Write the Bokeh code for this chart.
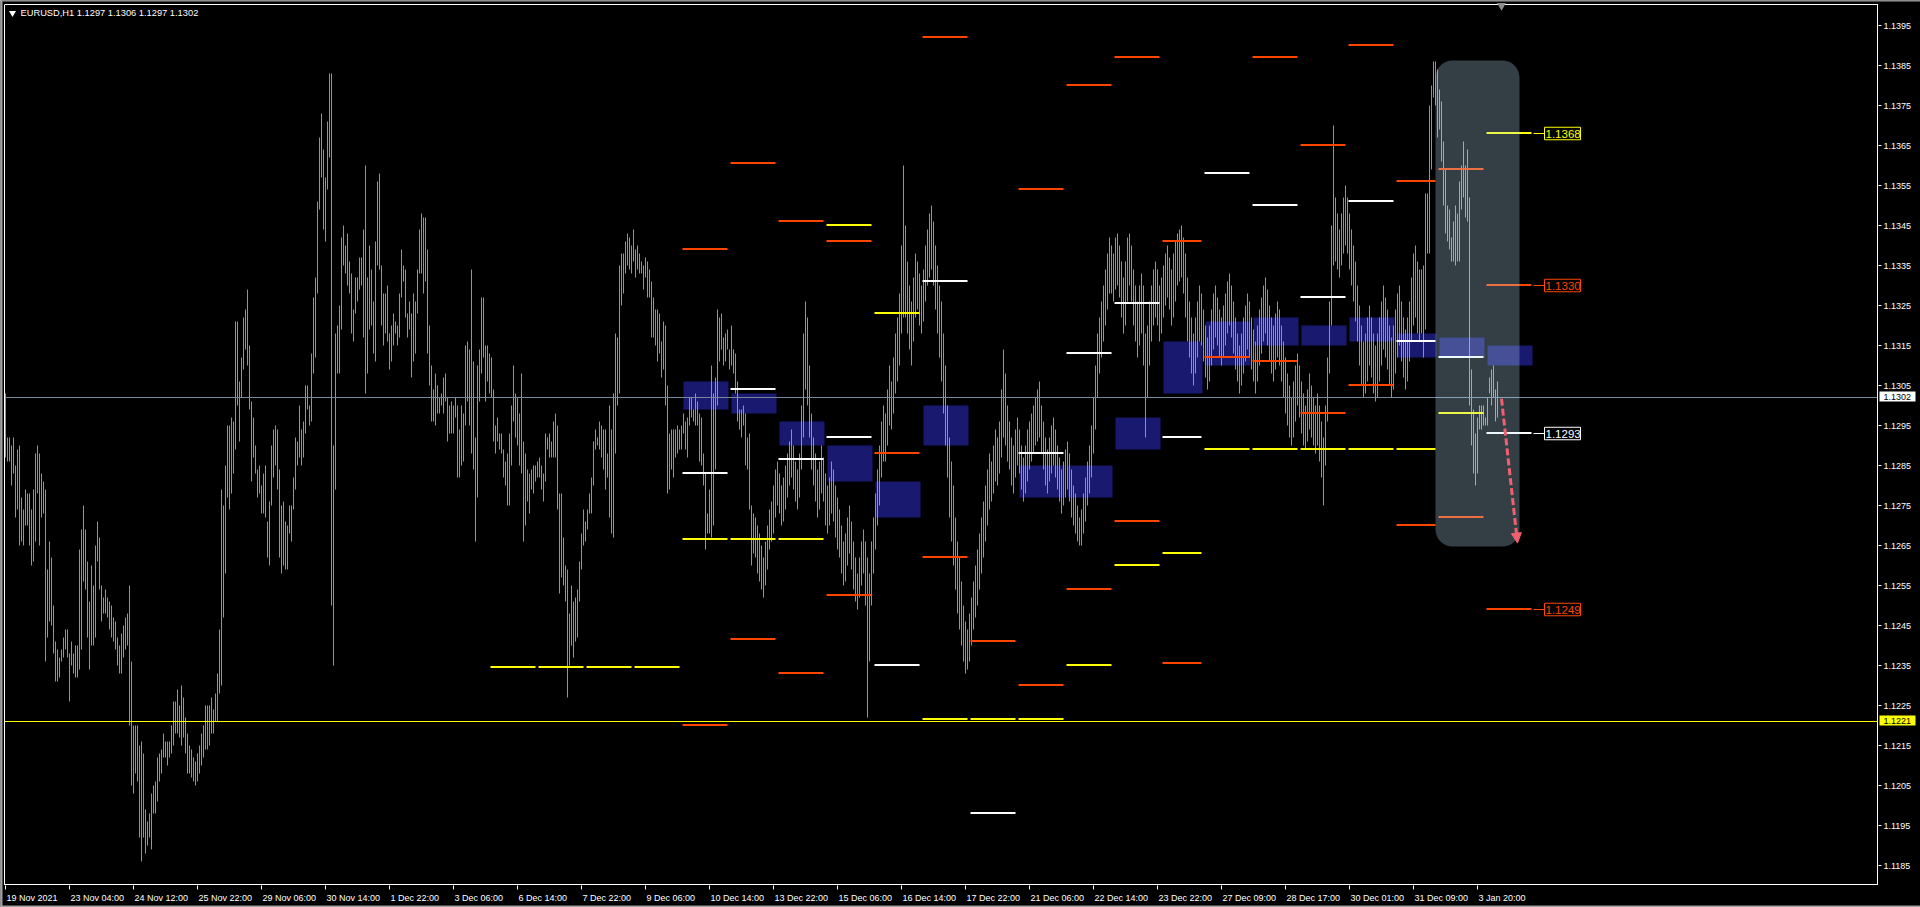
from bokeh.plotting import figure
from bokeh.models import Range1d, Arrow, NormalHead, BoxAnnotation
from bokeh.core.properties import value
from bokeh.embed import file_html
from bokeh.resources import INLINE

# ---------------- data ----------------
symbol = "EURUSD,H1"
last_ohlc = ["1.1297", "1.1306", "1.1297", "1.1302"]
current_price = 1.1302
weekly_level = 1.1221

time_labels = ["19 Nov 2021", "23 Nov 04:00", "24 Nov 12:00", "25 Nov 22:00", "29 Nov 06:00",
               "30 Nov 14:00", "1 Dec 22:00", "3 Dec 06:00", "6 Dec 14:00", "7 Dec 22:00",
               "9 Dec 06:00", "10 Dec 14:00", "13 Dec 22:00", "15 Dec 06:00", "16 Dec 14:00",
               "17 Dec 22:00", "21 Dec 06:00", "22 Dec 14:00", "23 Dec 22:00", "27 Dec 09:00",
               "28 Dec 17:00", "30 Dec 01:00", "31 Dec 09:00", "3 Jan 20:00"]
time_label_bar = [0, 32, 64, 96, 128, 160, 192, 224, 256, 288, 320, 352, 384, 416, 448,
                  480, 512, 544, 576, 608, 640, 672, 704, 736]

price_ticks = [1.1185, 1.1195, 1.1205, 1.1215, 1.1225, 1.1235, 1.1245, 1.1255, 1.1265,
               1.1275, 1.1285, 1.1295, 1.1305, 1.1315, 1.1325, 1.1335, 1.1345, 1.1355,
               1.1365, 1.1375, 1.1385, 1.1395]

# hourly bar highs / lows, in pips above 1.1000
high_pips = [
    303, 292, 292, 290, 292, 285, 289, 290, 277, 274, 279, 278, 278, 274, 279, 288, 290, 288, 283, 281,
    279, 259, 266, 262, 250, 241, 239, 237, 239, 242, 244, 244, 238, 241, 238, 240, 240, 264, 269, 275,
    269, 261, 251, 260, 255, 265, 271, 267, 255, 252, 254, 252, 251, 250, 247, 246, 242, 240, 243, 245,
    247, 248, 255, 236, 220, 220, 220, 215, 216, 213, 199, 196, 198, 203, 205, 206, 212, 213, 214, 218,
    216, 216, 216, 220, 226, 226, 229, 225, 230, 227, 222, 218, 215,
    214, 212, 211, 213, 215, 218, 220,
    225, 225, 225, 227, 224, 228, 233, 244, 279, 275, 285, 295, 295, 297, 296, 321, 321, 306, 312, 322,
    324, 329, 315, 301, 297, 290, 284, 285, 280, 283, 285, 271, 276, 290, 294, 295, 294, 284, 275, 276,
    271, 270, 275, 275, 282, 292, 291, 300, 294, 296, 305, 305, 300, 313, 327, 332, 351, 367, 373, 364,
    357, 371, 383, 383, 290, 318, 320, 325, 342, 345, 340, 343, 336, 333, 324, 332, 332, 337, 337, 344,
    360, 332, 340, 334, 326, 341,
    356, 358, 335, 328, 328, 330, 318, 320, 323, 321, 320, 328, 339, 335, 334, 323, 326, 323, 328, 326,
    334, 344, 348, 347, 347, 339, 320, 310, 304, 308, 305, 302, 303, 307, 308, 302, 300, 301, 300, 302,
    300, 294, 300, 298, 315, 316, 314, 334, 311, 292, 310, 314, 327, 327, 315, 315, 313, 312, 304, 295,
    297, 293, 293, 289, 286, 288, 293, 300, 310, 303, 302, 298, 308, 291, 288, 284, 283, 284, 285, 285,
    286, 287, 285, 283, 293, 292, 293, 291, 296, 298, 295, 278, 278, 267,
    260, 259, 248, 255, 251, 252, 254, 261, 268, 274, 271, 274, 278, 282, 291, 294, 292, 296, 295, 294,
    294, 288, 300, 294, 303, 318, 317, 335, 338, 338, 341, 343, 342, 340, 344, 339, 340, 338, 336, 335,
    337, 336, 334, 331, 327, 324, 324, 323, 316, 321, 320, 305, 293, 294, 294, 294, 295, 294, 295, 298,
    296, 297, 302, 302, 299, 303, 301, 298, 297, 288, 283, 273, 279, 310, 303, 307, 324, 322, 323, 317,
    318, 319, 314, 320, 314, 313, 306, 299, 299, 300, 298, 292, 293, 275, 273,
    272, 270, 268, 265, 262, 266, 270, 274, 276, 280, 284, 286, 283, 280, 282, 285, 288, 291, 294, 290,
    286, 284, 288, 300,
    318, 326, 322, 310, 298, 292, 288, 284, 286, 290, 287, 283, 280, 282, 286, 284, 280,
    277, 274, 270, 266, 268, 272, 275, 271, 266, 262, 258, 262, 266, 269, 266, 262,
    258, 266, 272, 278, 284, 290, 296, 300, 298, 304, 310, 306, 312, 318, 322, 328, 340, 360,
    345, 336, 330, 326, 332, 338, 336, 333, 330, 334, 340, 344, 348, 350, 346, 340, 335, 330, 326, 318,
    310, 300, 292,
    286, 280, 272, 266, 262, 256, 250, 246, 244, 248, 252, 256, 260, 264, 268,
    272, 276, 280, 284, 288, 286, 290, 294, 292, 296, 304, 314, 308, 300, 296, 292, 290, 294, 297, 294,
    290, 287, 290, 294, 296, 298, 300, 302, 304, 306,
    300, 296, 292, 289, 292, 295, 297, 294, 290, 287, 284, 286, 289, 291, 288, 284, 280, 278, 275, 272,
    274, 278, 282, 286, 290, 295,
    302, 310, 318, 322, 326, 330, 334, 338, 342, 340, 338, 342, 343, 340, 336, 332, 336, 342, 343, 340,
    334, 330, 326, 330, 333, 330,
    318, 320, 326, 330, 334, 336, 334, 330, 332, 335, 338, 340, 337, 334, 338, 341, 343, 344, 345, 342,
    338, 332, 326, 322, 318, 322, 326, 330, 328, 324, 320, 317, 320, 324, 328, 330, 327, 324, 322, 325,
    328, 331, 333, 330, 326, 322, 318, 315, 318, 322, 325, 328, 326, 322, 319, 316, 320, 324, 327, 330,
    332, 329, 325, 322, 320, 323, 326, 324, 320, 316,
    312, 308, 305, 302, 306, 310, 313, 310, 306, 303, 300, 304, 308, 305, 302, 300, 303, 300, 296, 292,
    300, 312, 326, 345, 370, 352, 348, 344, 348, 352, 355, 352,
    348, 344, 340, 336, 330, 325, 320, 316, 318, 322, 325, 322, 318, 315, 318, 322, 326, 330, 327, 324,
    320, 317, 320, 324, 328, 330, 326, 322, 319, 322, 326, 332, 338, 340, 336, 334,
    334, 335, 353, 353, 375, 380, 386, 386, 384, 379, 376, 366, 359, 350, 349, 342, 346, 350, 348, 356,
    360, 366, 360, 364, 352, 309, 299, 293, 297, 300, 300, 300, 297, 302, 307, 309, 310, 304, 306,
]
low_pips = [
    287, 286, 286, 280, 283, 272, 274, 265, 266, 265, 270, 270, 265, 260, 261, 266, 278, 265, 272, 273,
    236, 242, 246, 245, 238, 231, 231, 232, 236, 237, 239, 237, 226, 235, 233, 232, 232, 234, 239, 256,
    254, 242, 234, 240, 240, 242, 261, 254, 246, 248, 248, 247, 244, 242, 241, 239, 235, 233, 233, 237,
    239, 240, 220, 205, 203, 208, 206, 192, 186, 192, 188, 190, 192, 189, 198, 198, 201, 206, 208, 212,
    212, 210, 212, 213, 215, 218, 218, 217, 215, 217, 213, 208, 208,
    207, 206, 205, 206, 208, 210, 212,
    214, 214, 215, 218, 218, 221, 221, 228, 230, 247, 258, 277, 274, 278, 283, 289, 300, 291, 302, 309,
    314, 310, 299, 281, 287, 283, 277, 278, 273, 273, 272, 262, 260, 275, 282, 285, 279, 262, 258, 260,
    259, 259, 268, 266, 274, 279, 285, 287, 285, 287, 293, 299, 295, 296, 308, 312, 328, 349, 357, 344,
    341, 354, 362, 250, 235, 279, 308, 308, 319, 335, 333, 330, 328, 318, 316, 323, 326, 329, 330, 317,
    303, 308, 319, 320, 313, 311,
    335, 334, 320, 315, 318, 316, 309, 311, 315, 318, 315, 317, 327, 331, 322, 317, 319, 307, 311, 313,
    323, 333, 333, 328, 331, 313, 305, 296, 296, 295, 298, 298, 300, 298, 301, 291, 293, 293, 293, 297,
    282, 282, 285, 286, 295, 301, 295, 288, 284, 266, 277, 301, 308, 312, 301, 306, 303, 302, 291, 288,
    291, 289, 288, 282, 280, 275, 275, 285, 296, 292, 290, 285, 283, 266, 270, 276, 273, 279, 278, 281,
    282, 282, 279, 276, 281, 289, 287, 287, 287, 287, 274, 253, 257, 255,
    251, 227, 235, 240, 237, 241, 242, 251, 259, 265, 266, 269, 273, 273, 280, 289, 290, 289, 287, 284,
    279, 282, 272, 268, 267, 288, 300, 303, 325, 328, 333, 335, 334, 333, 336, 332, 334, 333, 333, 329,
    332, 327, 327, 317, 317, 315, 311, 313, 307, 309, 300, 278, 279, 284, 282, 287, 288, 289, 289, 293,
    289, 287, 295, 297, 296, 295, 295, 286, 285, 280, 264, 268, 268, 267, 270, 284, 300, 311, 314, 310,
    311, 314, 309, 310, 308, 303, 296, 294, 292, 295, 285, 284, 274, 260, 263,
    262, 258, 256, 254, 252, 255, 259, 264, 266, 268, 272, 275, 273, 270, 271, 274, 277, 280, 282, 279,
    276, 274, 277, 284,
    292, 304, 300, 292, 284, 280, 276, 272, 274, 278, 276, 270, 268, 270, 273, 271, 267,
    264, 262, 258, 255, 256, 260, 263, 259, 254, 251, 249, 252, 255, 258, 250, 222,
    236, 250, 258, 264, 270, 275, 282, 286, 286, 290, 295, 294, 298, 303, 306, 310, 318, 322,
    322, 318, 314, 310, 316, 322, 324, 320, 318, 321, 326, 330, 332, 334, 330, 324, 318, 312, 306, 298,
    290, 282, 272,
    266, 260, 254, 248, 244, 240, 236, 233, 234, 236, 240, 244, 247, 250, 254,
    258, 262, 266, 270, 274, 276, 278, 281, 280, 283, 287, 292, 290, 286, 284, 280, 278, 282, 285, 283,
    279, 276, 278, 281, 284, 286, 288, 290, 291, 292,
    288, 284, 280, 278, 281, 283, 285, 282, 279, 276, 273, 275, 277, 279, 276, 272, 270, 268, 266, 265,
    265, 268, 271, 275, 278, 282,
    288, 294, 302, 308, 312, 316, 320, 324, 328, 328, 326, 329, 330, 327, 322, 318, 320, 326, 330, 326,
    320, 316, 312, 315, 318, 310,
    292, 302, 310, 316, 320, 322, 320, 316, 318, 322, 325, 327, 324, 320, 322, 326, 330, 331, 332, 328,
    322, 316, 312, 308, 305, 308, 312, 316, 315, 311, 307, 304, 306, 310, 314, 317, 315, 312, 310, 312,
    315, 318, 320, 317, 313, 309, 306, 303, 305, 308, 311, 314, 312, 309, 306, 303, 306, 310, 313, 316,
    318, 315, 311, 308, 306, 309, 312, 310, 306, 302,
    298, 295, 292, 290, 292, 296, 300, 297, 293, 290, 289, 291, 294, 292, 290, 288, 290, 286, 282, 275,
    285, 296, 308, 320, 335, 336, 334, 332, 335, 338, 340, 338,
    334, 330, 326, 321, 316, 310, 305, 302, 303, 306, 310, 307, 303, 301, 302, 306, 310, 314, 312, 309,
    305, 302, 304, 308, 312, 315, 311, 307, 304, 306, 311, 316, 320, 322, 318, 316,
    318, 312, 319, 338, 338, 359, 377, 375, 367, 369, 361, 350, 343, 341, 339, 336, 336, 335, 336, 336,
    349, 352, 347, 346, 300, 290, 283, 280, 283, 294, 294, 295, 295, 295, 303, 300, 302, 296, 297,
]

# daily levels (pips above 1.1000), one entry per trading day
day_start = [242, 266, 290, 314, 338, 362, 386, 410, 434, 458, 482, 506, 530, 554, 578, 599,
             623, 647, 671, 695, 716, 740]
day_len = [24, 24, 24, 24, 24, 24, 24, 24, 24, 24, 24, 24, 24, 24, 21, 24, 24, 24, 24, 21, 24, 24]
yellow_lv = [234.5, 234.5, 234.5, 234.5, 266.5, 266.5, 266.5, 345, 323, 221.5, 221.5, 221.5,
             235, 260, 263, 289, 289, 289, 289, 289, 298, 368]
white_lv = [None, None, None, None, 283, 304, 286.5, 292, 235, 331, 198, 288, 313, 325.5, 292,
            358, 350, 327, 351, 316, 312, 293]
upper_lv = [None, None, None, None, 339, 360.5, 346, 341, None, 392, None, 354, 380, 387, 341,
            None, 387, 365, 390, 356, 359, 330]
lower_lv = [None, None, None, None, 220, 241.5, 233, 252.5, 288, 262, 241, 230, 254, 271, 235.5,
            312, 311, 298, 305, 270, 272, 249]
zone_top = [None, None, None, None, 306, 303, 296, 290, 281, 300, None, 285, 285, 297, 316, 321,
            322, 320, 322, 318, 317, 315]
zone_bot = [None, None, None, None, 299, 298, 290, 281, 272, 290, None, 277, 277, 289, 303, 310,
            315, 315, 316, 312, 312, 310]

# highlighted projection: box around bars, arrow from/to price
focus_bars = [715, 757]
focus_prices = [1.138625, 1.126475]
arrow_bars = [748, 756]
arrow_prices = [1.13017, 1.12656]

# ---------------- layout helpers (pixel -> data) ----------------
PIP = 0.0001
BASE = 1.1


def pr(v):
    return BASE + v * PIP


def kx(X):          # screen x -> bar units (2 px per bar)
    return (X - 5) / 2.0


def py(Y):          # screen y -> price (4 px per pip)
    return 1.1395 - (Y - 25) / 40000.0


def dpx(n):         # n pixels in price units
    return n / 40000.0


W, H = 1920, 907
FONT = value("Liberation Sans")
GREEN = "#1CE81C"
ORANGE = "#FF4500"
BLUE = "#191970"
YEL = "#FFFF00"
WHITE = "#FFFFFF"
EDGE = "#A0A0A0"

p = figure(width=W, height=H, x_range=Range1d(kx(0), kx(W)),
           y_range=Range1d(py(H), py(0)), toolbar_location=None,
           output_backend="svg", x_axis_location=None, y_axis_location=None,
           min_border=0, title_location=None)
p.background_fill_color = "black"
p.border_fill_color = "black"
p.outline_line_color = None
p.grid.visible = False

# ---- window edges ----
p.quad(left=[kx(0) - 1], right=[kx(2)], top=[py(-5)], bottom=[py(912)], fill_color=EDGE, line_color=None)
p.quad(left=[kx(0) - 1], right=[kx(1925)], top=[py(-5)], bottom=[py(1)], fill_color=EDGE, line_color=None)
p.quad(left=[kx(0) - 1], right=[kx(1925)], top=[py(905)], bottom=[py(912)], fill_color=EDGE, line_color=None)

# ---- daily zones (blue) ----
zl, zr, zt, zb = [], [], [], []
for s, n, t, b in zip(day_start, day_len, zone_top, zone_bot):
    if t is None:
        continue
    zl.append(s + 1)
    zr.append(s + n - 0.5)
    zt.append(pr(t))
    zb.append(pr(b))
p.quad(left=zl, right=zr, top=zt, bottom=zb, fill_color=BLUE, line_color=None)

# ---- bars ----
n = min(len(high_pips), len(low_pips))
xs = list(range(n))
p.segment(x0=xs, y0=[pr(v) for v in low_pips[:n]], x1=xs, y1=[pr(v) for v in high_pips[:n]],
          line_color=GREEN, line_width=1)

# ---- horizontal reference lines ----
p.segment(x0=[kx(4)], x1=[kx(1877)], y0=[current_price], y1=[current_price],
          line_color="#778899", line_width=1)
p.segment(x0=[kx(4)], x1=[kx(1877)], y0=[weekly_level], y1=[weekly_level],
          line_color=YEL, line_width=1)

# ---- daily level segments ----
for levels, col in [(upper_lv, ORANGE), (lower_lv, ORANGE), (white_lv, WHITE), (yellow_lv, YEL)]:
    x0, x1, yy = [], [], []
    for s, nn, v in zip(day_start, day_len, levels):
        if v is None:
            continue
        x0.append(s + 0.5)
        x1.append(s + nn - 1)
        yy.append(pr(v) + dpx(0.5))
    p.segment(x0=x0, x1=x1, y0=yy, y1=yy, line_color=col, line_width=2)

# ---- right-hand labels of the last day's levels ----
last = len(day_start) - 1
for v, col in [(yellow_lv[last], YEL), (upper_lv[last], ORANGE), (white_lv[last], WHITE),
               (lower_lv[last], ORANGE)]:
    P = pr(v)
    p.segment(x0=[kx(1533)], x1=[kx(1544)], y0=[P], y1=[P], line_color=col, line_width=1)
    p.rect(x=[kx(1562)], y=[P], width=18, height=dpx(12.5), fill_color="black",
           line_color=col, line_width=1)
    p.text(x=[kx(1545)], y=[P], text=["%.4f" % P], text_font=FONT, text_font_size="11.5px",
           text_color=col, text_baseline="middle", text_align="left")

# ---- frame ----
p.segment(x0=[kx(1877), kx(4)], x1=[kx(1877), kx(4)], y0=[py(4.5), py(4.5)], y1=[py(884.5), py(884.5)],
          line_color=WHITE, line_width=1)
p.segment(x0=[kx(4), kx(4)], x1=[kx(1877.5), kx(1877.5)], y0=[py(884), py(4)], y1=[py(884), py(4)],
          line_color=WHITE, line_width=1)

# ---- price axis ----
p.segment(x0=[kx(1878)] * len(price_ticks), x1=[kx(1881)] * len(price_ticks),
          y0=price_ticks, y1=price_ticks, line_color=WHITE, line_width=1)
p.text(x=[kx(1883)] * len(price_ticks), y=price_ticks, text=["%.4f" % t for t in price_ticks],
       text_font=FONT, text_font_size="9px", text_color=WHITE, text_baseline="middle",
       text_align="left")

# current price and weekly level tags on the axis
for lv, bg in [(current_price, WHITE), (weekly_level, YEL)]:
    p.rect(x=[kx(1897)], y=[lv + dpx(1)], width=18, height=dpx(10), fill_color=bg, line_color=None)
    p.text(x=[kx(1883)], y=[lv + dpx(1)], text=["%.4f" % lv], text_font=FONT, text_font_size="9px",
           text_color="black", text_baseline="middle", text_align="left")

# ---- time axis ----
tx = list(time_label_bar)
p.segment(x0=tx, x1=tx, y0=[py(885)] * len(tx), y1=[py(889)] * len(tx), line_color=WHITE, line_width=1)
p.text(x=[k + 0.5 for k in time_label_bar], y=[py(897)] * len(tx), text=time_labels, text_font=FONT,
       text_font_size="9px", text_color=WHITE, text_baseline="middle", text_align="left")

# ---- header ----
p.scatter(x=[kx(12)], y=[py(12.5)], marker="inverted_triangle", size=7, fill_color=WHITE,
          line_color=None)
p.text(x=[kx(20)], y=[py(12.5)], text=[symbol + "  " + " ".join(last_ohlc)], text_font=FONT,
       text_font_size="9.3px", text_color=WHITE, text_baseline="middle", text_align="left")
p.scatter(x=[kx(1501)], y=[py(5)], marker="inverted_triangle", size=9, fill_color="#8C8C8C",
          line_color=None)

# ---- projection box & arrow ----
p.add_layout(BoxAnnotation(left=focus_bars[0], right=focus_bars[1], top=focus_prices[0],
                           bottom=focus_prices[1], fill_color="#BEE4FF", fill_alpha=0.27,
                           line_color=None, border_radius=17))
ac = "#F0606E"
p.add_layout(Arrow(end=NormalHead(size=10, fill_color=ac, line_color=ac),
                   x_start=arrow_bars[0], y_start=arrow_prices[0],
                   x_end=arrow_bars[1], y_end=arrow_prices[1],
                   line_color=ac, line_width=3, line_dash="7 3"))

open("out.html", "w").write(file_html(p, INLINE))
